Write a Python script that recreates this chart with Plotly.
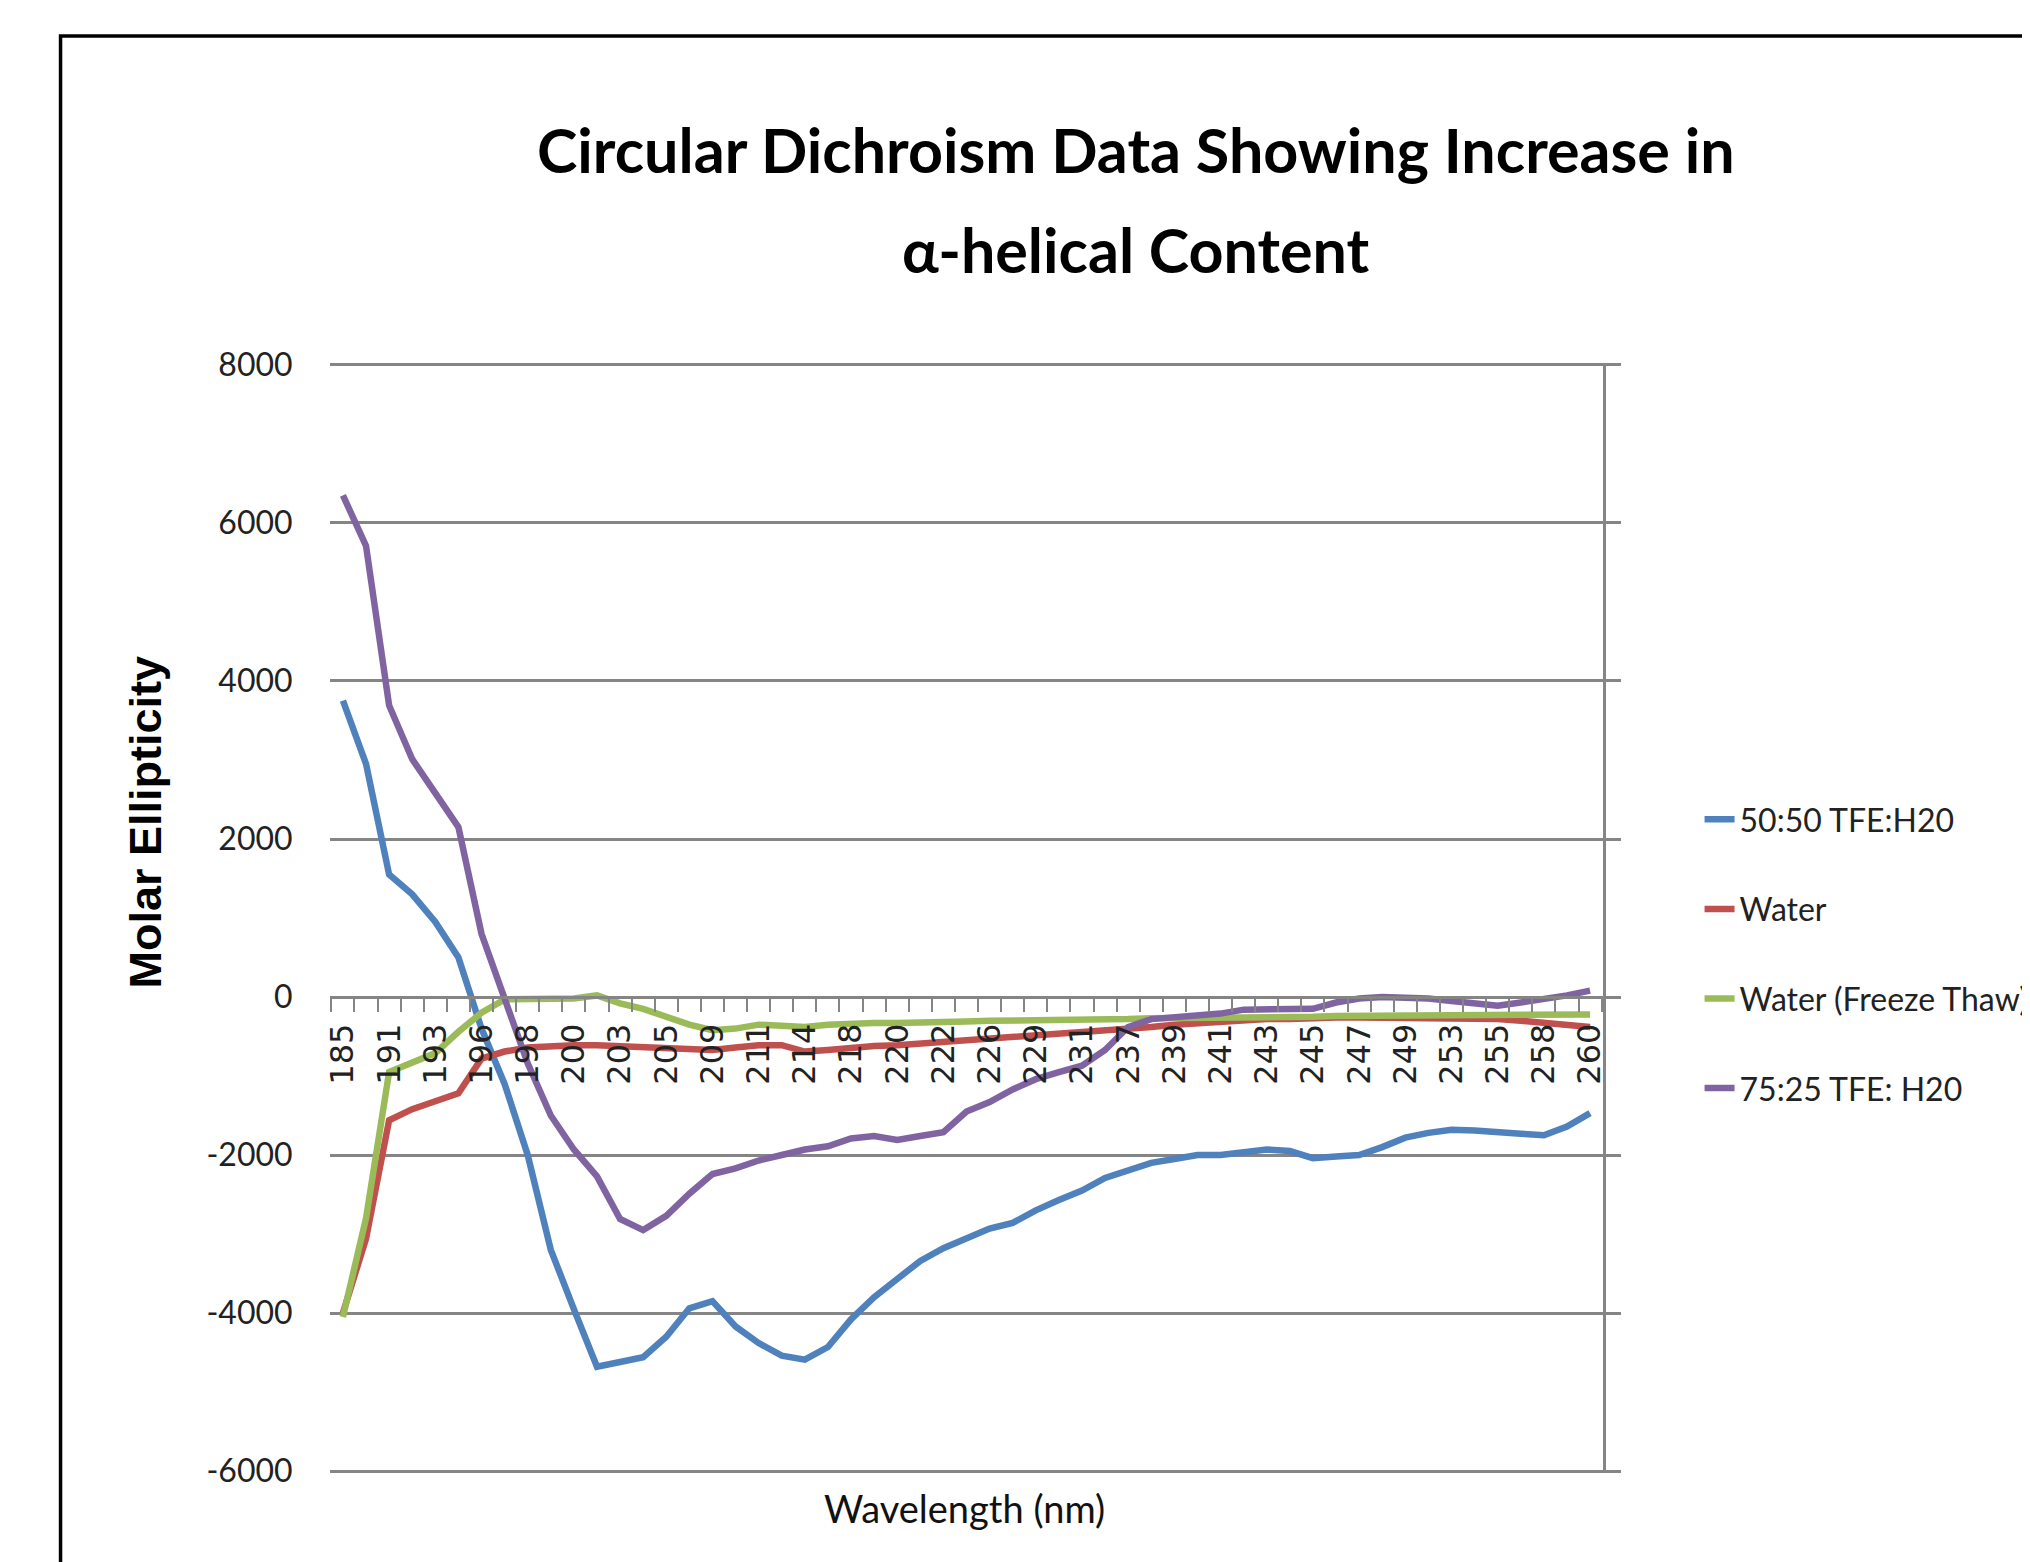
import plotly.graph_objects as go

# ---------------- data ----------------
wavelengths = [185, 188, 191, 192, 193, 195, 196, 197, 198, 199, 200, 202, 203, 204, 205,
               207, 209, 210, 211, 213, 214, 216, 218, 219, 220, 221, 222, 224, 226, 228,
               229, 230, 231, 234, 237, 238, 239, 240, 241, 242, 243, 244, 245, 246, 247,
               248, 249, 251, 253, 254, 255, 257, 258, 259, 260]

tick_labels = ["185", "191", "193", "196", "198", "200", "203", "205", "209", "211", "214",
               "218", "220", "222", "226", "229", "231", "237", "239", "241", "243", "245",
               "247", "249", "253", "255", "258", "260"]

y_tick_values = [-6000, -4000, -2000, 0, 2000, 4000, 6000, 8000]
y_tick_labels = ["-6000", "-4000", "-2000", "0", "2000", "4000", "6000", "8000"]

tfe_50_50 = [3750, 2950, 1550, 1300, 950, 500, -400, -1100, -2000, -3200, -3950, -4680,
             -4620, -4560, -4300, -3940, -3850, -4170, -4380, -4540, -4590, -4430, -4080,
             -3800, -3570, -3340, -3180, -3060, -2930, -2860, -2700, -2570, -2450, -2290,
             -2200, -2100, -2050, -2000, -2000, -1960, -1930, -1950, -2040, -2020, -2000,
             -1900, -1780, -1720, -1680, -1690, -1700, -1730, -1750, -1640, -1470]

water = [-4000, -3060, -1560, -1420, -1320, -1220, -780, -690, -640, -620, -610, -610,
         -620, -640, -660, -670, -670, -640, -610, -610, -690, -670, -640, -620, -610,
         -590, -580, -560, -530, -510, -490, -460, -440, -430, -400, -380, -350, -330,
         -310, -300, -280, -280, -260, -260, -260, -260, -260, -260, -260, -280, -280,
         -300, -330, -350, -380]

water_ft = [-4050, -2800, -950, -840, -710, -440, -200, -30, -20, -20, -20, 20, -80, -150,
            -250, -350, -420, -400, -350, -360, -380, -350, -330, -330, -330, -330, -310,
            -310, -300, -300, -300, -290, -290, -280, -280, -270, -270, -260, -260, -250,
            -250, -250, -250, -240, -240, -240, -240, -240, -240, -230, -230, -230, -220,
            -220, -220]

tfe_75_25 = [6350, 5710, 3690, 3010, 2580, 2150, 800, 0, -840, -1500, -1930, -2270, -2810,
             -2950, -2770, -2490, -2240, -2170, -2070, -2000, -1930, -1890, -1790, -1760,
             -1810, -1760, -1710, -1450, -1330, -1170, -1040, -950, -870, -670, -380, -280,
             -260, -230, -210, -160, -160, -150, -150, -70, -20, 0, 0, -20, -50, -80, -110,
             -70, -30, 20, 80]

series_names = ["50:50 TFE:H20", "Water", "Water (Freeze Thaw)", "75:25 TFE: H20"]
series_values = [tfe_50_50, water, water_ft, tfe_75_25]
series_colors = ["#4F81BD", "#C0504D", "#9BBB59", "#8064A2"]

y_min, y_max = -6000, 8000

# ---------------- geometry (page pixels; the page body adds an 8px offset) ----------------
W, H = 2030, 1562
OFF = 8
n = len(wavelengths)
x_pad = 0.06          # keeps the end tick marks inside the clip region
y_pad = 25
L_pg, R_pg = 331, 1602          # category boundaries -0.5 and n-0.5
T_pg, B_pg = 365, 1471          # y = 8000 and y = -6000
cat_w = (R_pg - L_pg) / n
u_per_px = (y_max - y_min) / (B_pg - T_pg)
L = L_pg - x_pad * cat_w - OFF
R = R_pg + x_pad * cat_w - OFF
T = T_pg - y_pad / u_per_px - OFF
B = B_pg + y_pad / u_per_px - OFF
pw, ph = R - L, B - T


def px(xp):
    return (xp - OFF - L) / pw


def py(yp):
    return (B - (yp - OFF)) / ph


# ---------------- figure ----------------
idx = list(range(n))
tick_positions = [wavelengths.index(int(t)) for t in tick_labels]

fig = go.Figure()
for k, (name, vals, col) in enumerate(zip(series_names, series_values, series_colors)):
    fig.add_trace(go.Scatter(
        x=idx, y=vals, mode="lines", name=name, legendgroup=name,
        yaxis="y2" if k == len(series_names) - 1 else "y",
        line=dict(color=col, width=6.5),
        customdata=wavelengths,
        hovertemplate="%{customdata} nm: %{y}<extra>" + name + "</extra>",
    ))

grid = "#858585"
font_main = "Lato, 'Open Sans', sans-serif"
yrange = [y_min - y_pad, y_max + y_pad]

fig.update_layout(
    width=W, height=H,
    margin=dict(l=L, r=W - R, t=T, b=H - B, pad=0, autoexpand=False),
    paper_bgcolor="white", plot_bgcolor="white",
    showlegend=True,
    legend=dict(
        x=px(1700), y=py(954), xanchor="left", yanchor="middle",
        font=dict(family=font_main, size=32, color="#222222"),
        tracegroupgap=45, bgcolor="rgba(0,0,0,0)",
    ),
    xaxis=dict(
        range=[-0.5 - x_pad, n - 0.5 + x_pad],
        anchor="free", position=(0 - yrange[0]) / (yrange[1] - yrange[0]),
        tickmode="array", tickvals=tick_positions, ticktext=tick_labels,
        tickangle=-90,
        tickfont=dict(family="DejaVu Sans, Verdana, sans-serif", size=32, color="#222222"),
        ticks="outside", ticklen=12, tickcolor="rgba(0,0,0,0)",
        minor=dict(ticks="outside", tickmode="linear", tick0=-0.5, dtick=1,
                   ticklen=13, tickwidth=2, tickcolor=grid, showgrid=False),
        showline=True, linecolor=grid, linewidth=2.5,
        showgrid=False, zeroline=False,
    ),
    yaxis=dict(
        range=yrange, tickmode="array", tickvals=y_tick_values, ticktext=y_tick_labels,
        showgrid=True, gridcolor=grid, gridwidth=2.5,
        zeroline=False, showline=False,
        ticks="outside", ticklen=30, tickcolor="rgba(0,0,0,0)",
        tickfont=dict(family=font_main, size=32, color="#222222"),
    ),
    yaxis2=dict(
        range=yrange, tickmode="array", tickvals=y_tick_values,
        overlaying="y", side="right", anchor="x",
        showgrid=False, zeroline=False, showticklabels=False,
        showline=True, linecolor=grid, linewidth=2.5,
        ticks="outside", ticklen=15, tickwidth=2.5, tickcolor=grid,
    ),
)

# chart frame (partially cut off at right and bottom)
fig.add_shape(type="rect", xref="paper", yref="paper",
              x0=px(60), x1=px(2300), y0=py(1800), y1=py(36),
              line=dict(color="black", width=3.5), fillcolor="rgba(0,0,0,0)", layer="above")

title_font = dict(family=font_main, size=61, color="black")
fig.add_annotation(text="<b>Circular Dichroism Data Showing Increase in</b>",
                   xref="paper", yref="paper", x=px(1136), y=py(150),
                   xanchor="center", yanchor="middle", showarrow=False, font=title_font)
fig.add_annotation(text="<b>α-helical Content</b>",
                   xref="paper", yref="paper", x=px(1136), y=py(250),
                   xanchor="center", yanchor="middle", showarrow=False, font=title_font)

fig.add_annotation(text="<b>Molar Ellipticity</b>", textangle=-90,
                   xref="paper", yref="paper", x=px(145), y=py(822),
                   xanchor="center", yanchor="middle", showarrow=False,
                   font=dict(family="Liberation Sans, Arial, sans-serif", size=45, color="black"))
fig.add_annotation(text="Wavelength (nm)",
                   xref="paper", yref="paper", x=px(964), y=py(1508),
                   xanchor="center", yanchor="middle", showarrow=False,
                   font=dict(family=font_main, size=38, color="#111111"))

fig.write_html("out.html")
